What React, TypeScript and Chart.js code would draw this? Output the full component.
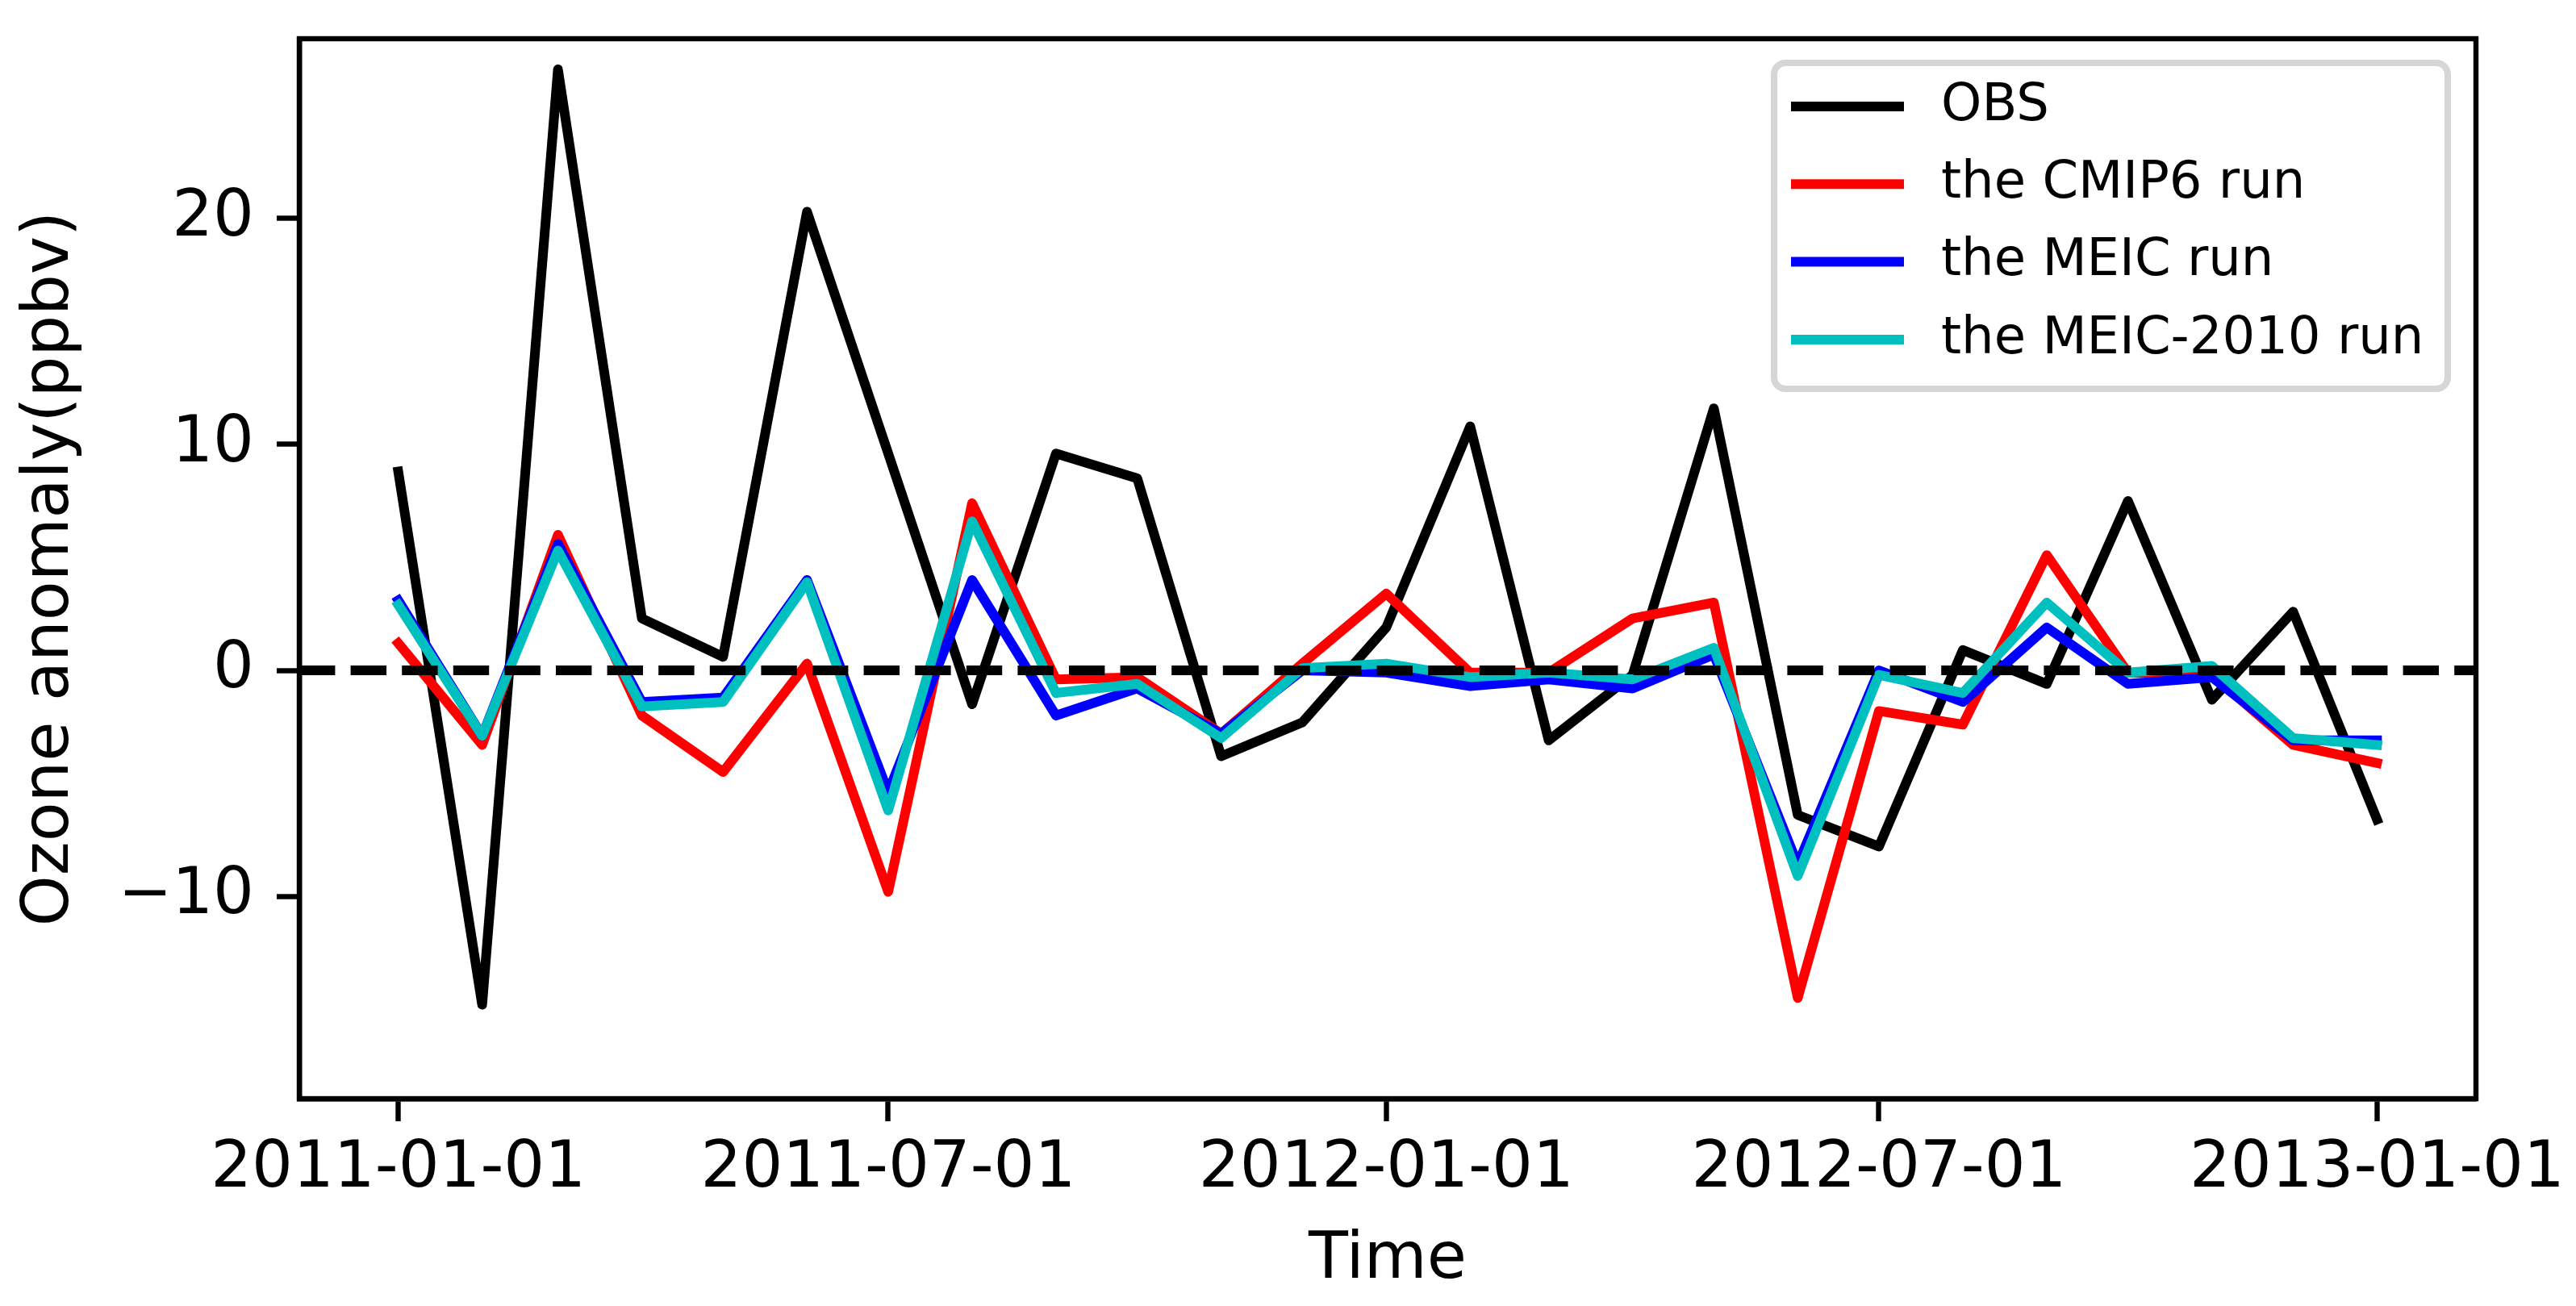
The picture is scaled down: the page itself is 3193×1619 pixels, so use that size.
import React, { useEffect, useRef } from "react";
import { Chart, registerables } from "chart.js";

Chart.register(...registerables);
Chart.defaults.font.family = "'DejaVu Sans', sans-serif";

const dates = [
  "2011-01-01", "2011-02-01", "2011-03-01", "2011-04-01", "2011-05-01", "2011-06-01",
  "2011-07-01", "2011-08-01", "2011-09-01", "2011-10-01", "2011-11-01", "2011-12-01",
  "2012-01-01", "2012-02-01", "2012-03-01", "2012-04-01", "2012-05-01", "2012-06-01",
  "2012-07-01", "2012-08-01", "2012-09-01", "2012-10-01", "2012-11-01", "2012-12-01",
  "2013-01-01",
];

const obs = [8.8, -14.8, 26.6, 2.3, 0.6, 20.3, 9.6, -1.5, 9.6, 8.5, -3.8, -2.3, 1.9, 10.8, -3.1, -0.2, 11.6, -6.4, -7.8, 0.9, -0.6, 7.5, -1.3, 2.6, -6.6];
const cmip6 = [1.2, -3.3, 6.0, -2.0, -4.5, 0.3, -9.8, 7.4, -0.4, -0.3, -2.8, 0.3, 3.4, -0.1, -0.1, 2.3, 3.0, -14.5, -1.8, -2.4, 5.1, -0.1, -0.2, -3.3, -4.1];
const meic = [3.1, -2.9, 5.6, -1.4, -1.2, 4.0, -5.4, 4.0, -2.0, -0.8, -2.8, 0.0, -0.1, -0.7, -0.4, -0.8, 0.7, -8.6, 0.0, -1.4, 1.9, -0.6, -0.3, -3.1, -3.1];
const meic2010 = [2.9, -2.9, 5.3, -1.6, -1.4, 3.9, -6.2, 6.6, -1.0, -0.6, -3.0, 0.1, 0.3, -0.3, -0.1, -0.4, 1.0, -9.1, -0.2, -1.0, 3.0, -0.1, 0.2, -3.0, -3.3];

const seriesLabels = ["OBS", "the CMIP6 run", "the MEIC run", "the MEIC-2010 run"];
const seriesColors = ["#000000", "#ff0000", "#0000ff", "#00bfbf"];

const xTickDates = ["2011-01-01", "2011-07-01", "2012-01-01", "2012-07-01", "2013-01-01"];
const yTicks = [-10, 0, 10, 20];
const yMin = -18.96;
const yMax = 27.96;

const W = 3193;
const H = 1619;

const toDay = (s: string) =>
  (Date.parse(s + "T00:00:00Z") - Date.parse(dates[0] + "T00:00:00Z")) / 86400000;

const framePlugin = {
  id: "frameBox",
  afterDatasetsDraw(chart: any) {
    const { ctx, chartArea: a } = chart;
    ctx.save();
    ctx.strokeStyle = "#000";
    ctx.lineWidth = 6.4;
    ctx.lineJoin = "miter";
    ctx.strokeRect(a.left, a.top, a.right - a.left, a.bottom - a.top);
    ctx.restore();
  },
};

const legendPlugin = {
  id: "boxLegend",
  afterDraw(chart: any) {
    const { ctx, chartArea: a } = chart;
    const bw = 835;
    const bh = 404;
    const bx = a.right - 35 - bw;
    const by = a.top + 30;
    ctx.save();
    ctx.beginPath();
    (ctx as any).roundRect(bx, by, bw, bh, 14);
    ctx.fillStyle = "rgba(255,255,255,0.8)";
    ctx.fill();
    ctx.lineWidth = 8;
    ctx.strokeStyle = "#d6d6d6";
    ctx.stroke();
    ctx.font = "64px 'DejaVu Sans', sans-serif";
    ctx.textBaseline = "middle";
    ctx.textAlign = "left";
    for (let i = 0; i < seriesLabels.length; i++) {
      const cy = by + 54 + i * 96.3;
      ctx.beginPath();
      ctx.moveTo(bx + 21, cy);
      ctx.lineTo(bx + 161, cy);
      ctx.lineWidth = 12;
      ctx.lineCap = "butt";
      ctx.strokeStyle = seriesColors[i];
      ctx.stroke();
      ctx.fillStyle = "#000";
      ctx.fillText(seriesLabels[i], bx + 207, cy);
    }
    ctx.restore();
  },
};

export default function App() {
  const ref = useRef<HTMLCanvasElement>(null);

  useEffect(() => {
    const canvas = ref.current;
    if (!canvas) return;
    const xs = dates.map(toDay);
    const span = xs[xs.length - 1] - xs[0];
    const xMin = xs[0] - 0.05 * span;
    const xMax = xs[xs.length - 1] + 0.05 * span;
    const tickVals = xTickDates.map(toDay);
    const series = [obs, cmip6, meic, meic2010];

    const datasets: any[] = series.map((vals, i) => ({
      label: seriesLabels[i],
      data: vals.map((v, j) => ({ x: xs[j], y: v })),
      borderColor: seriesColors[i],
      backgroundColor: seriesColors[i],
      borderWidth: 12,
      pointRadius: 0,
      pointHoverRadius: 0,
      tension: 0,
      fill: false,
      borderJoinStyle: "round",
      borderCapStyle: "square",
      order: 4 - i,
    }));
    datasets.push({
      label: "zero",
      data: [
        { x: xMin, y: 0 },
        { x: xMax, y: 0 },
      ],
      borderColor: "#000",
      backgroundColor: "#000",
      borderWidth: 12,
      borderDash: [44.4, 19.2],
      borderCapStyle: "butt",
      pointRadius: 0,
      pointHoverRadius: 0,
      fill: false,
      order: 0,
    });

    const chart = new Chart(canvas, {
      type: "line",
      data: { datasets },
      options: {
        responsive: false,
        devicePixelRatio: 1,
        animation: false,
        layout: { padding: { left: 0, top: 48, right: W - 3069, bottom: 0 } },
        plugins: {
          legend: { display: false },
          tooltip: { enabled: false },
        },
        scales: {
          x: {
            type: "linear",
            min: xMin,
            max: xMax,
            afterBuildTicks: (ax: any) => {
              ax.ticks = tickVals.map((v) => ({ value: v }));
            },
            afterFit: (ax: any) => {
              ax.height = H - 1362;
              ax.paddingLeft = 0;
              ax.paddingRight = 0;
            },
            ticks: {
              autoSkip: false,
              maxRotation: 0,
              minRotation: 0,
              padding: 12,
              color: "#000",
              font: { size: 80 },
              callback: (v: any) => {
                const k = tickVals.indexOf(Number(v));
                return k >= 0 ? xTickDates[k] : "";
              },
            },
            grid: {
              display: true,
              drawOnChartArea: false,
              drawTicks: true,
              tickLength: 28,
              tickWidth: 6.4,
              tickColor: "#000",
              color: "#000",
            },
            border: { display: true, color: "#000", width: 6.4 },
            title: {
              display: true,
              text: "Time",
              color: "#000",
              font: { size: 80 },
              padding: { top: 0, bottom: 8 },
            },
          },
          y: {
            type: "linear",
            min: yMin,
            max: yMax,
            afterBuildTicks: (ax: any) => {
              ax.ticks = yTicks.map((v) => ({ value: v }));
            },
            afterFit: (ax: any) => {
              ax.width = 371;
              ax.paddingTop = 0;
              ax.paddingBottom = 0;
            },
            ticks: {
              padding: 28,
              color: "#000",
              font: { size: 80 },
              callback: (v: any) => {
                const n = Number(v);
                return n < 0 ? "\u2212" + Math.abs(n) : String(n);
              },
            },
            grid: {
              display: true,
              drawOnChartArea: false,
              drawTicks: true,
              tickLength: 28,
              tickWidth: 6.4,
              tickColor: "#000",
              color: "#000",
            },
            border: { display: true, color: "#000", width: 6.4 },
            title: {
              display: true,
              text: "Ozone anomaly(ppbv)",
              color: "#000",
              font: { size: 80 },
              padding: { top: 15, bottom: 0 },
            },
          },
        },
      } as any,
      plugins: [framePlugin, legendPlugin],
    });

    return () => {
      chart.destroy();
    };
  }, []);

  return (
    <div style={{ position: "absolute", left: 0, top: 0, width: W, height: H, background: "#fff" }}>
      <canvas ref={ref} width={W} height={H} style={{ width: W, height: H, display: "block" }} />
    </div>
  );
}
